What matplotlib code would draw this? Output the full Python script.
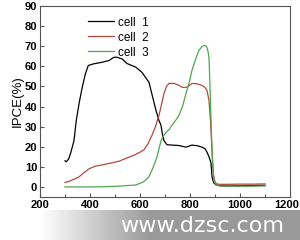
import numpy as np
import matplotlib.pyplot as plt
from matplotlib.ticker import MultipleLocator, FuncFormatter

# wavelength (nm) / IPCE (%)
cell1_x = [300, 305, 315, 323, 336, 345, 357, 369, 381, 393, 413, 448, 476, 496, 508, 528,
           548, 565, 583, 608, 636, 650, 664, 676, 684, 690, 696, 708, 730, 756, 784, 808,
           830, 848, 860, 868, 876, 884, 888, 895, 904, 920, 950, 1000, 1050, 1100]
cell1_y = [13, 12.5, 14, 17, 23, 33, 42, 49.6, 56, 60.4, 61.2, 62, 62.9, 64.5, 64.5, 63.7,
           61.4, 60.5, 59.6, 57, 52, 45, 38, 33, 30.7, 26, 23, 21, 20.8, 20.6, 19.8, 20.8,
           20.5, 19.8, 19, 17.3, 15, 12, 5, 2, 1, 0.6, 0.5, 0.6, 0.7, 0.8]

cell2_x = [300, 310, 320, 335, 356, 375, 396, 420, 450, 480, 516, 550, 580, 600, 616, 632,
           648, 662, 676, 686, 696, 706, 716, 736, 756, 770, 784, 796, 808, 828, 848, 860,
           868, 876, 882, 888, 894, 900, 906, 920, 950, 1000, 1050, 1100]
cell2_y = [2.3, 2.5, 3, 3.8, 5, 7, 9, 10.3, 11, 11.8, 12.8, 14.5, 16, 17.3, 18.5, 21.5,
           25.7, 30, 35.6, 41, 46.5, 50, 51.5, 51.5, 50.5, 49.5, 49.5, 50.3, 51.5, 51.3, 50.5, 49.5,
           48, 43, 33, 18, 6, 2.5, 1.5, 1.3, 1.3, 1.4, 1.4, 1.5]

cell3_x = [300, 350, 400, 450, 500, 540, 584, 610, 624, 636, 648, 658, 668, 676, 684, 694,
           704, 716, 728, 742, 756, 770, 784, 796, 808, 822, 836, 848, 856, 864, 868, 872,
           876, 880, 885, 890, 896, 904, 920, 950, 1000, 1050, 1100]
cell3_y = [0, 0, 0, 0.1, 0.3, 0.6, 1, 2.3, 3.5, 5.2, 8.4, 11.5, 15, 19, 23, 25.5,
           27, 28.5, 30.7, 33, 35.6, 40, 46.5, 51.5, 58, 63.5, 68, 69.8, 70.3, 70.2, 69.3, 67.5,
           64, 50, 30, 12, 3, 1, 0.5, 0.4, 0.4, 0.4, 0.5]

labels = ["cell  1", "cell  2", "cell  3"]
colors = ["#000000", "#b04a3e", "#4fa64f"]
xmax = 1200

fig = plt.figure(figsize=(3, 2.4), dpi=100)
ax = fig.add_axes([40/300, 1 - 197/240, 250/300, 191/240])

for xs, ys, lab, c in zip([cell1_x, cell2_x, cell3_x], [cell1_y, cell2_y, cell3_y], labels, colors):
    ax.plot(xs, ys, color=c, lw=0.9, label=lab)

ax.set_xlim(200, xmax)
ax.set_ylim(-5, 90)
ax.xaxis.set_major_locator(MultipleLocator(200))
ax.xaxis.set_minor_locator(MultipleLocator(100))
ax.yaxis.set_major_locator(MultipleLocator(10))
# last x label drawn separately so it is not clipped by the figure edge
ax.xaxis.set_major_formatter(FuncFormatter(lambda v, p: "" if v >= xmax else "%d" % v))
ax.tick_params(which='both', direction='in', color='#555555', width=0.8)
ax.tick_params(which='major', length=3, pad=2)
ax.tick_params(which='minor', length=2)
for lab in ax.get_xticklabels() + ax.get_yticklabels():
    lab.set_fontfamily('Liberation Sans')
    lab.set_fontweight('bold')
    lab.set_fontsize(8)
ax.annotate("%d" % xmax, xy=(xmax, 0), xycoords=ax.get_xaxis_transform(),
            xytext=(-2.5, -2), textcoords='offset points', ha='center', va='top',
            fontfamily='Liberation Sans', fontweight='bold', fontsize=8, annotation_clip=False)
for s in ax.spines.values():
    s.set_color('#555555')
    s.set_linewidth(0.8)

ax.set_ylabel("IPCE(%)", fontfamily='Liberation Sans', fontsize=9.5, labelpad=1)

ax.legend(loc='upper left', bbox_to_anchor=(0.15, 1.0), frameon=False,
          prop={'family': 'Liberation Sans', 'size': 8.5}, handlelength=2.2,
          handletextpad=0.3, labelspacing=0.25)

# watermark band at the bottom
wm = fig.add_axes([0, 0, 1, 30/240])
grad = np.ones((2, 300, 4))
grad[..., :3] = 0.6
alpha = np.clip((np.arange(300) - 40) / 110.0, 0, 1)
grad[..., 3] = alpha
wm.imshow(grad, aspect='auto', extent=[0, 300, 0, 30])
wm.set_xlim(0, 300)
wm.set_ylim(0, 30)
wm.axis('off')
wm.text(202, 14, "www.dzsc.com", color='white', fontsize=16, ha='center', va='center',
        fontfamily='DejaVu Sans')

fig.savefig("out.png", dpi=100)
